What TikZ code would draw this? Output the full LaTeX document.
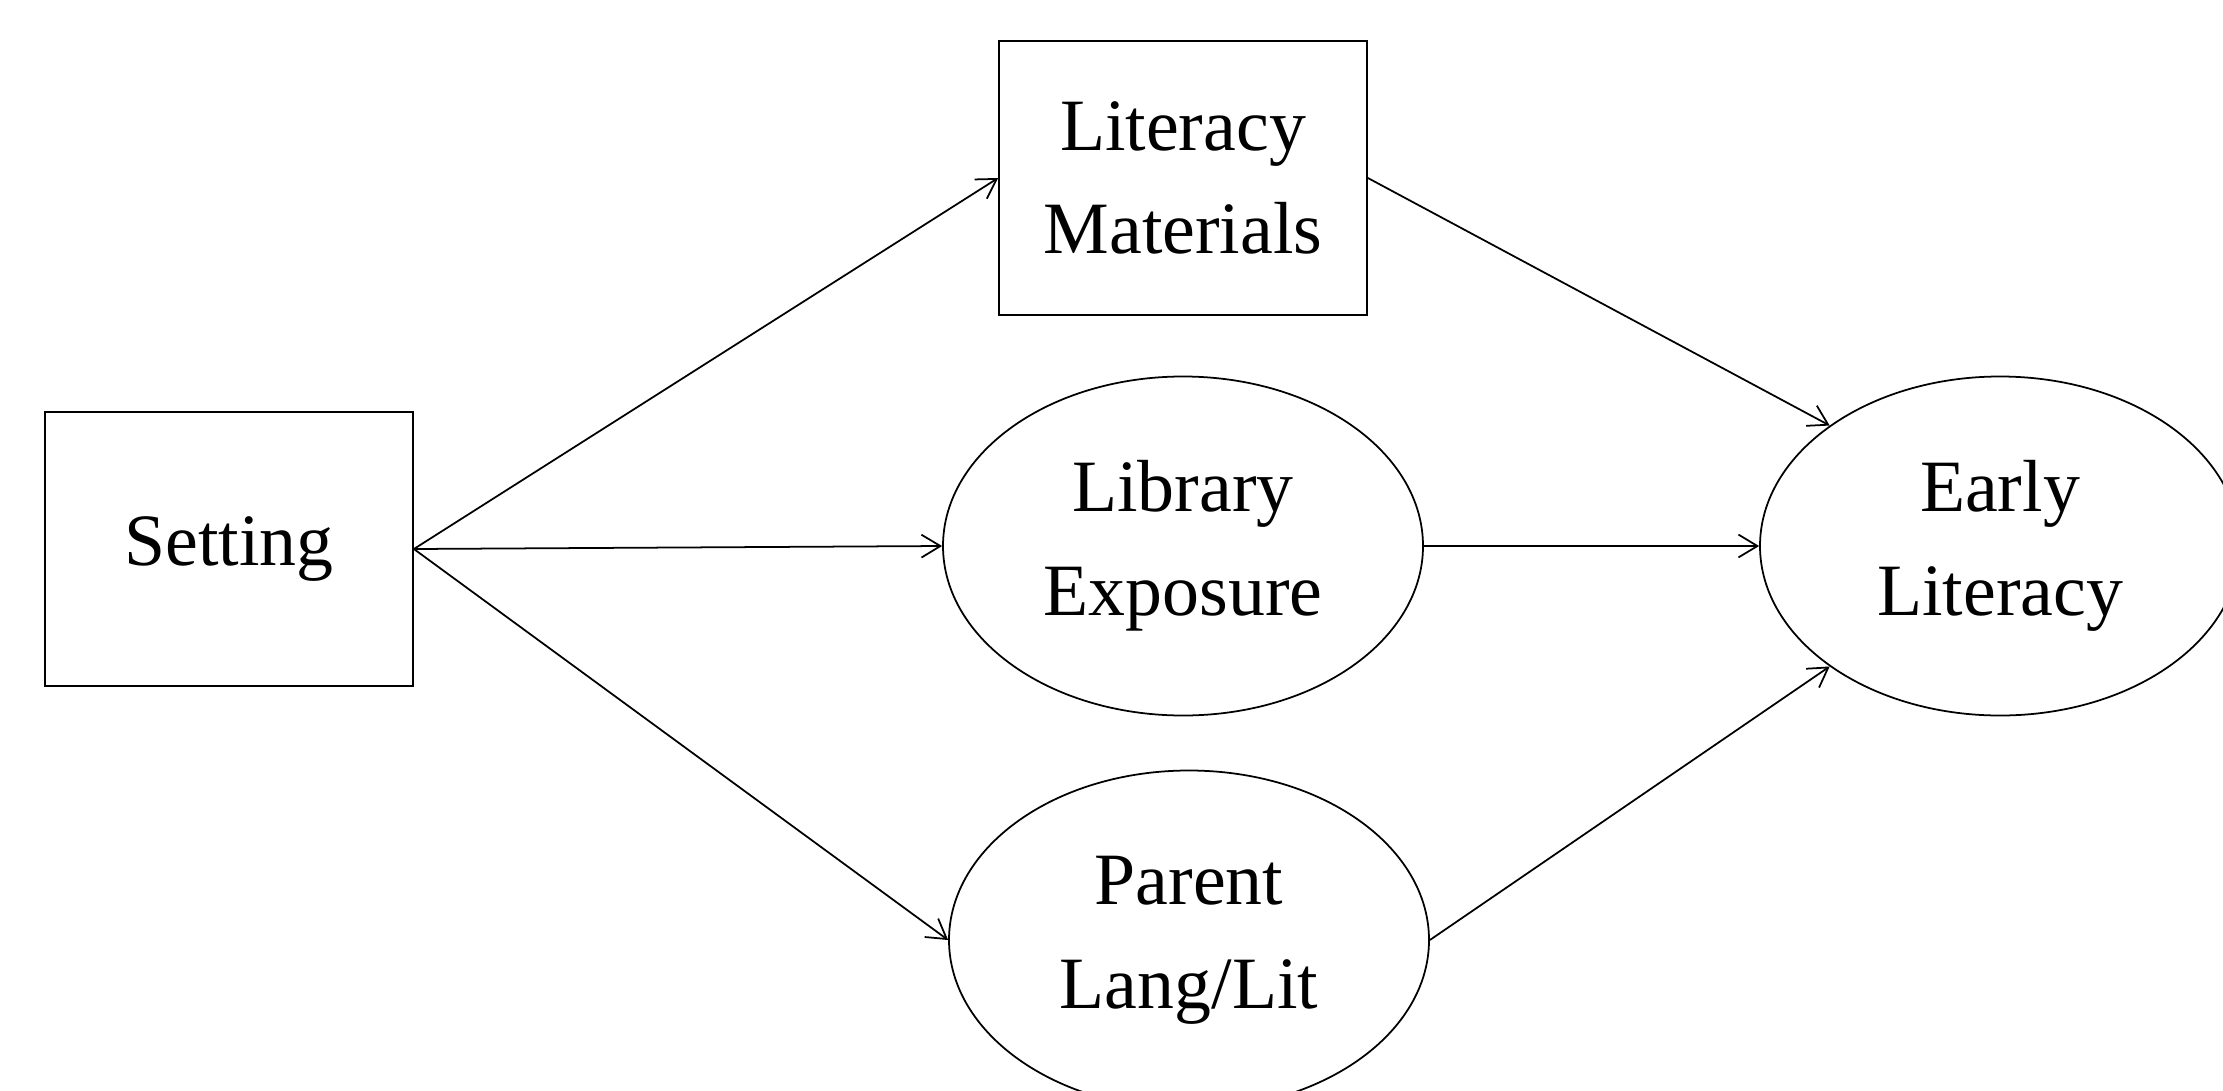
\documentclass[tikz,border=0pt]{standalone}
\usepackage{fontspec}
\setmainfont{Liberation Serif}
\usepackage{tikz}
\usetikzlibrary{shapes.geometric,arrows.meta}

\begin{document}
\begin{tikzpicture}[
  box/.style={draw,rectangle,line width=0.5pt,minimum width=3.68cm,minimum height=2.74cm,align=center,font=\fontsize{21}{29.5}\selectfont},
  oval/.style={draw,ellipse,line width=0.5pt,minimum width=4.8cm,minimum height=3.39cm,inner sep=0pt,align=center,font=\fontsize{21}{29.5}\selectfont},
  link/.style={line width=0.5pt,-{Straight Barb[length=5.4pt,width=6.5pt]}}
]

  % fixed frame
  \useasboundingbox (0,0) rectangle (22.23,10.90);

  % exogenous variable
  \node[box] (setting) at (2.29,5.41) {Setting};

  % mediators
  \node[box] (materials) at (11.83,9.12) {Literacy\\Materials};
  \node[oval] (library) at (11.83,5.44) {Library\\Exposure};
  \node[oval] (parent) at (11.89,1.50) {Parent\\Lang/Lit};

  % outcome
  \node[oval] (early) at (20.00,5.44) {Early\\Literacy};

  % paths
  \draw[link] (setting.east) -- (materials.west);
  \draw[link] (setting.east) -- (library.west);
  \draw[link] (setting.east) -- (parent.west);
  \draw[link] (materials.east) -- (early.north west);
  \draw[link] (library.east) -- (early.west);
  \draw[link] (parent.east) -- (early.south west);

\end{tikzpicture}
\end{document}
